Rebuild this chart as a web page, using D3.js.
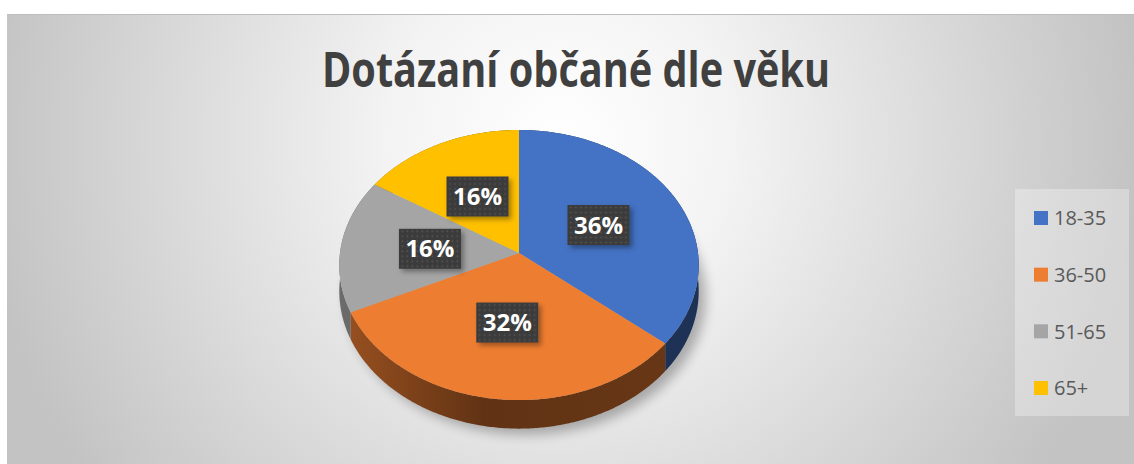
<!DOCTYPE html>
<html>
<head>
<meta charset="utf-8">
<script src="https://cdn.jsdelivr.net/npm/d3@7"></script>
<style>
  html, body { margin: 0; padding: 0; background: #fff; }
  svg { display: block; }
</style>
</head>
<body>
<svg id="chart"></svg>
<script>
const title = "Dotázaní občané dle věku";
const categories = ["18-35", "36-50", "51-65", "65+"];
const values = [36, 32, 16, 16];
const colors = ["#4472C4", "#ED7D31", "#A5A5A5", "#FFC000"];

const width = 1134, height = 464;
const svg = d3.select("#chart").attr("width", width).attr("height", height);
const defs = svg.append("defs");

// background gradient
const bg = defs.append("radialGradient").attr("id", "bg")
  .attr("gradientUnits", "userSpaceOnUse")
  .attr("cx", 560).attr("cy", 140).attr("r", 580);
bg.append("stop").attr("offset", 0).attr("stop-color", "#ffffff");
bg.append("stop").attr("offset", 0.3).attr("stop-color", "#f3f3f3");
bg.append("stop").attr("offset", 1).attr("stop-color", "#c3c3c3");

svg.append("rect").attr("x", 7).attr("y", 14).attr("width", width - 7).attr("height", height - 14)
  .attr("fill", "url(#bg)");
svg.append("line").attr("x1", 7).attr("x2", width).attr("y1", 14.5).attr("y2", 14.5)
  .attr("stroke", "#bdbdbd");

// title
svg.append("text")
  .attr("x", 576).attr("y", 87)
  .attr("text-anchor", "middle")
  .attr("font-family", "'Open Sans', sans-serif")
  .attr("font-weight", 700)
  .attr("font-size", 48)
  .attr("fill", "#404040")
  .attr("textLength", 508)
  .attr("lengthAdjust", "spacingAndGlyphs")
  .text(title);

// pie geometry (simple perspective projection of a disc)
const cx = 519, cy = 253, A = 179, B = 134, k = 0.089, depth = 26;
function proj(theta, r, h = 0) {
  const X = r * Math.sin(theta), Z = r * Math.cos(theta);
  const w = 1 + k * Z;
  return [cx + A * X / w, cy - B * Z / w + h / w];
}
function arcPts(a0, a1, r, h) {
  const n = Math.max(2, Math.ceil((a1 - a0) / 0.01));
  return d3.range(n + 1).map(i => proj(a0 + (a1 - a0) * i / n, r, h));
}

const color = d3.scaleOrdinal().domain(categories).range(colors);
const pie = d3.pie().sort(null).value(d => d.value);
const data = categories.map((c, i) => ({ name: c, value: values[i] }));
const arcs = pie(data);
const line = d3.line();

// shadow
const f = defs.append("filter").attr("id", "blur").attr("x", "-20%").attr("y", "-20%")
  .attr("width", "140%").attr("height", "140%");
f.append("feGaussianBlur").attr("stdDeviation", 6);
svg.append("path")
  .attr("d", line(arcPts(0, 2 * Math.PI, 1, depth)) + "Z")
  .attr("transform", "translate(7,6)")
  .attr("fill", "#000").attr("opacity", 0.28)
  .attr("filter", "url(#blur)");

// sides
const g = svg.append("g");
arcs.forEach((a, i) => {
  const c = d3.color(color(a.data.name));
  const gr = defs.append("linearGradient").attr("id", "side" + i)
    .attr("gradientUnits", "userSpaceOnUse")
    .attr("x1", cx - A).attr("x2", cx + A).attr("y1", 0).attr("y2", 0);
  gr.append("stop").attr("offset", 0).attr("stop-color", c.darker(1.2));
  gr.append("stop").attr("offset", 0.4).attr("stop-color", c.darker(2.5));
  gr.append("stop").attr("offset", 1).attr("stop-color", c.darker(2.3));
  const top = arcPts(a.startAngle, a.endAngle, 1, 0);
  const bot = arcPts(a.startAngle, a.endAngle, 1, depth).reverse();
  g.append("path").attr("d", line(top.concat(bot)) + "Z")
    .attr("fill", `url(#side${i})`);
});

// top faces
arcs.forEach(a => {
  const pts = [proj(0, 0)].concat(arcPts(a.startAngle, a.endAngle, 1, 0));
  g.append("path").attr("d", line(pts) + "Z")
    .attr("fill", color(a.data.name));
});

// data labels
const pat = defs.append("pattern").attr("id", "dots")
  .attr("patternUnits", "userSpaceOnUse").attr("width", 5).attr("height", 5);
pat.append("rect").attr("width", 5).attr("height", 5).attr("fill", "#3b3b3b");
pat.append("circle").attr("cx", 2.5).attr("cy", 2.5).attr("r", 0.9).attr("fill", "#555");
const sh = defs.append("filter").attr("id", "lblShadow").attr("x", "-30%").attr("y", "-30%")
  .attr("width", "160%").attr("height", "160%");
sh.append("feDropShadow").attr("dx", 3).attr("dy", 3).attr("stdDeviation", 2.5)
  .attr("flood-color", "#000").attr("flood-opacity", 0.35);

const total = d3.sum(values);
arcs.forEach(a => {
  const mid = (a.startAngle + a.endAngle) / 2;
  const [lx, ly] = proj(mid, 0.5, 0);
  const lg = svg.append("g").attr("transform", `translate(${lx},${ly})`);
  lg.append("rect").attr("x", -31).attr("y", -20).attr("width", 62).attr("height", 40)
    .attr("fill", "url(#dots)").attr("filter", "url(#lblShadow)");
  lg.append("text").attr("text-anchor", "middle").attr("dy", "0.36em")
    .attr("font-family", "'Open Sans', sans-serif").attr("font-weight", 700)
    .attr("font-size", 24).attr("fill", "#fff")
    .text(d3.format(".0%")(a.value / total));
});

// legend
svg.append("rect").attr("x", 1015).attr("y", 189).attr("width", 114).attr("height", 227)
  .attr("fill", "#fff").attr("opacity", 0.3);
const ly = d3.scalePoint().domain(categories).range([218, 388]);
const leg = svg.append("g").selectAll("g").data(categories).join("g")
  .attr("transform", d => `translate(1034,${ly(d)})`);
leg.append("rect").attr("x", 0).attr("y", -7).attr("width", 14).attr("height", 14)
  .attr("fill", d => color(d));
leg.append("text").attr("x", 20).attr("dy", "0.36em")
  .attr("font-family", "'Open Sans', sans-serif").attr("font-size", 20)
  .attr("fill", "#595959")
  .text(d => d);
</script>
</body>
</html>
